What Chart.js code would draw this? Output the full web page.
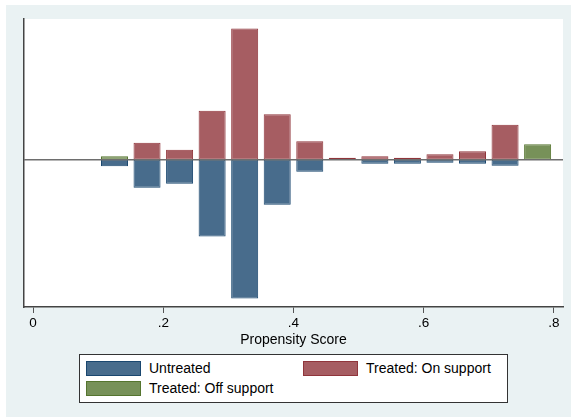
<!DOCTYPE html>
<html>
<head>
<meta charset="utf-8">
<script src="https://cdn.jsdelivr.net/npm/chart.js@4/dist/chart.umd.min.js"></script>
<style>
  body { margin: 0; background: #fff; font-family: 'Liberation Sans', Arial, sans-serif; }
  #bg { position: absolute; left: 6px; top: 5px; width: 565px; height: 412px; background: #eaf2f3; }
  #wrap { position: absolute; left: 0; top: 0; width: 571px; height: 350px; }
  #legend { position: absolute; left: 79px; top: 354px; width: 427px; height: 47px;
            background: #fff; border: 1px solid #333; }
  .sw { position: absolute; width: 53px; height: 13px; border: 1px solid; }
  .lb { position: absolute; font-size: 14px; line-height: 16px; color: #000; white-space: nowrap; }
</style>
</head>
<body>
<div id="bg"></div>
<div id="wrap"><canvas id="psChart"></canvas></div>
<div id="legend"></div>
<script>
// propensity score bin centres
const binCenters = [0.125, 0.175, 0.225, 0.275, 0.325, 0.375, 0.425, 0.475, 0.525, 0.575, 0.625, 0.675, 0.725, 0.775];
// bar heights (untreated drawn below zero)
const untreated   = [-0.065, -0.28, -0.24, -0.77, -1.39, -0.45, -0.12, null, -0.04, -0.04, -0.03, -0.04, -0.06, null];
const treatedOn   = [null, 0.17, 0.10, 0.49, 1.315, 0.455, 0.185, 0.02, 0.035, 0.02, 0.055, 0.085, 0.35, null];
const treatedOff  = [0.035, null, null, null, null, null, null, null, null, null, null, null, null, 0.155];
const xTicks = [0, 0.2, 0.4, 0.6, 0.8];
const xTickLabels = ['0', '.2', '.4', '.6', '.8'];
const seriesNames = ['Untreated', 'Treated: On support', 'Treated: Off support'];

const fills = ['rgb(72,108,140)', 'rgb(166,93,98)', 'rgb(119,145,89)'];
const borders = ['rgb(26,71,111)', 'rgb(144,53,59)', 'rgb(85,117,47)'];

function toPoints(vals) {
    return binCenters.map((x, i) => ({ x: x, y: vals[i] }));
}

// white plot region
const plotBg = {
    id: 'plotBg',
    beforeDraw(chart) {
        const a = chart.chartArea;
        chart.ctx.save();
        chart.ctx.fillStyle = '#fff';
        chart.ctx.fillRect(a.left, a.top, a.right - a.left, a.bottom - a.top);
        chart.ctx.restore();
    }
};

// zero line drawn over the bars
const zeroLine = {
    id: 'zeroLine',
    afterDatasetsDraw(chart) {
        const a = chart.chartArea;
        const y = chart.scales.y.getPixelForValue(0);
        const ctx = chart.ctx;
        ctx.save();
        ctx.strokeStyle = '#6e6e6e';
        ctx.lineWidth = 1.5;
        ctx.beginPath();
        ctx.moveTo(a.left, y);
        ctx.lineTo(a.right, y);
        ctx.stroke();
        ctx.restore();
    }
};

const datasets = [untreated, treatedOn, treatedOff].map((vals, i) => ({
    label: seriesNames[i],
    data: toPoints(vals),
    backgroundColor: fills[i],
    borderColor: borders[i],
    borderWidth: 1,
    borderSkipped: false,
    grouped: false,
    barPercentage: 0.83,
    categoryPercentage: 1
}));

new Chart(document.getElementById('psChart'), {
    type: 'bar',
    data: { datasets: datasets },
    options: {
        responsive: true,
        maintainAspectRatio: false,
        animation: false,
        layout: { padding: { left: 24, top: 19, right: 8, bottom: 0 } },
        plugins: { legend: { display: false }, tooltip: { enabled: false } },
        scales: {
            x: {
                type: 'linear',
                offset: false,
                min: -0.014,
                max: 0.814,
                afterBuildTicks: scale => { scale.ticks = xTicks.map(v => ({ value: v })); },
                afterFit: scale => { scale.height = 43; },
                ticks: {
                    callback: (v, i) => xTickLabels[i],
                    color: '#000',
                    padding: 2,
                    maxRotation: 0,
                    font: { family: "'Liberation Sans', Arial, sans-serif", size: 13.5 }
                },
                grid: { offset: false, drawOnChartArea: false, drawTicks: true, tickLength: 6, color: '#555', lineWidth: 1 },
                border: { display: true, color: '#444', width: 1.5 },
                title: {
                    display: true,
                    text: 'Propensity Score',
                    color: '#000',
                    padding: { top: 0, bottom: 1 },
                    font: { family: "'Liberation Sans', Arial, sans-serif", size: 14 }
                }
            },
            y: {
                min: -1.475,
                max: 1.41,
                afterFit: scale => { scale.width = 0; },
                ticks: { display: false },
                grid: { display: false },
                border: { display: true, color: '#444', width: 1.5 }
            }
        }
    },
    plugins: [plotBg, zeroLine]
});

// legend box, two columns
const legend = document.getElementById('legend');
const legendPos = [[6, 6], [223, 6], [6, 26]];
seriesNames.forEach((name, i) => {
    const sw = document.createElement('div');
    sw.className = 'sw';
    sw.style.left = legendPos[i][0] + 'px';
    sw.style.top = legendPos[i][1] + 'px';
    sw.style.background = fills[i];
    sw.style.borderColor = borders[i];
    legend.appendChild(sw);
    const lb = document.createElement('div');
    lb.className = 'lb';
    lb.textContent = name;
    lb.style.left = (legendPos[i][0] + 63) + 'px';
    lb.style.top = (legendPos[i][1] - 1) + 'px';
    legend.appendChild(lb);
});
</script>
</body>
</html>
